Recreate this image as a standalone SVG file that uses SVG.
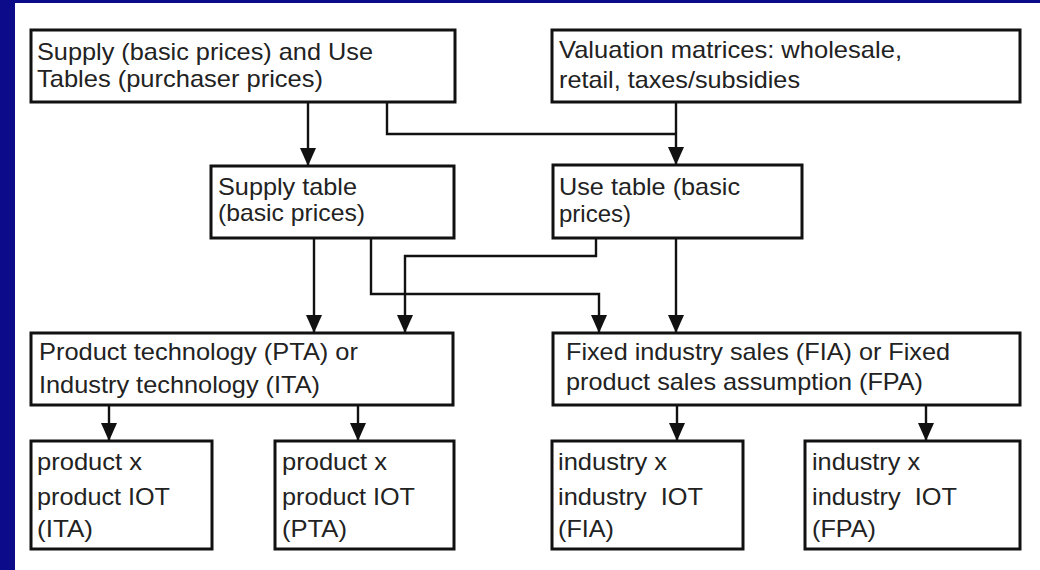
<svg xmlns="http://www.w3.org/2000/svg" width="1040" height="570" viewBox="0 0 1040 570">
  <style>
    .box { fill: #ffffff; stroke: #111111; stroke-width: 3; }
    .lbl { font-family: "Liberation Sans", Arial, Helvetica, sans-serif; font-size: 24px; fill: #222222; white-space: pre; }
    .conn { fill: none; stroke: #111111; stroke-width: 2.4; }
  </style>
  <defs>
    <marker id="arr" viewBox="0 0 18 16" refX="18" refY="8" markerWidth="18" markerHeight="16" markerUnits="userSpaceOnUse" orient="auto">
      <path d="M0,0 L18,8 L0,16 z" fill="#111111"/>
    </marker>
  </defs>
  <rect x="0" y="0" width="1040" height="570" fill="#ffffff"/>
  <rect x="0" y="0" width="1040" height="3" fill="#0c0c8a"/>
  <rect x="0" y="0" width="15" height="570" fill="#0c0c8a"/>

  <g id="connectors">
    <path class="conn" d="M308,102 V166" marker-end="url(#arr)"/>
    <path class="conn" d="M387,102 V134 H676"/>
    <path class="conn" d="M676,102 V165" marker-end="url(#arr)"/>
    <path class="conn" d="M314,238 V333" marker-end="url(#arr)"/>
    <path class="conn" d="M371,238 V294 H599 V333" marker-end="url(#arr)"/>
    <path class="conn" d="M596,238 V256 H405 V333" marker-end="url(#arr)"/>
    <path class="conn" d="M676,238 V333" marker-end="url(#arr)"/>
    <path class="conn" d="M109,405 V441" marker-end="url(#arr)"/>
    <path class="conn" d="M358,405 V441" marker-end="url(#arr)"/>
    <path class="conn" d="M677,405 V441" marker-end="url(#arr)"/>
    <path class="conn" d="M926,405 V441" marker-end="url(#arr)"/>
  </g>

  <g id="supply-use-purchaser">
    <rect class="box" x="31" y="30" width="424" height="72"/>
    <text class="lbl" x="37" y="60" textLength="336" lengthAdjust="spacingAndGlyphs">Supply (basic prices) and Use</text>
    <text class="lbl" x="37" y="87" textLength="286" lengthAdjust="spacingAndGlyphs">Tables (purchaser prices)</text>
  </g>

  <g id="valuation">
    <rect class="box" x="552" y="30" width="468" height="72"/>
    <text class="lbl" x="559" y="58" textLength="343" lengthAdjust="spacingAndGlyphs">Valuation matrices: wholesale,</text>
    <text class="lbl" x="559" y="88" textLength="241" lengthAdjust="spacingAndGlyphs">retail, taxes/subsidies</text>
  </g>

  <g id="supply-table">
    <rect class="box" x="211" y="166" width="243" height="72"/>
    <text class="lbl" x="218" y="195" textLength="139" lengthAdjust="spacingAndGlyphs">Supply table</text>
    <text class="lbl" x="218" y="221" textLength="147" lengthAdjust="spacingAndGlyphs">(basic prices)</text>
  </g>

  <g id="use-table">
    <rect class="box" x="553" y="165" width="249" height="73"/>
    <text class="lbl" x="559" y="195" textLength="181" lengthAdjust="spacingAndGlyphs">Use table (basic</text>
    <text class="lbl" x="559" y="222" textLength="72" lengthAdjust="spacingAndGlyphs">prices)</text>
  </g>

  <g id="product-industry-technology">
    <rect class="box" x="31" y="333" width="422" height="72"/>
    <text class="lbl" x="39" y="360" textLength="319" lengthAdjust="spacingAndGlyphs">Product technology (PTA) or</text>
    <text class="lbl" x="39" y="393" textLength="281" lengthAdjust="spacingAndGlyphs">Industry technology (ITA)</text>
  </g>

  <g id="fixed-sales">
    <rect class="box" x="553" y="333" width="467" height="72"/>
    <text class="lbl" x="566" y="360" textLength="384" lengthAdjust="spacingAndGlyphs">Fixed industry sales (FIA) or Fixed</text>
    <text class="lbl" x="566" y="390" textLength="357" lengthAdjust="spacingAndGlyphs">product sales assumption (FPA)</text>
  </g>

  <g id="iot-ita">
    <rect class="box" x="31" y="441" width="181" height="108"/>
    <text class="lbl" x="37" y="470" textLength="105" lengthAdjust="spacingAndGlyphs">product x</text>
    <text class="lbl" x="37" y="505" textLength="133" lengthAdjust="spacingAndGlyphs">product IOT</text>
    <text class="lbl" x="37" y="537" textLength="56" lengthAdjust="spacingAndGlyphs">(ITA)</text>
  </g>

  <g id="iot-pta">
    <rect class="box" x="275" y="441" width="179" height="108"/>
    <text class="lbl" x="282" y="470" textLength="105" lengthAdjust="spacingAndGlyphs">product x</text>
    <text class="lbl" x="282" y="505" textLength="133" lengthAdjust="spacingAndGlyphs">product IOT</text>
    <text class="lbl" x="282" y="537" textLength="65" lengthAdjust="spacingAndGlyphs">(PTA)</text>
  </g>

  <g id="iot-fia">
    <rect class="box" x="552" y="441" width="191" height="108"/>
    <text class="lbl" x="558" y="470" textLength="109" lengthAdjust="spacingAndGlyphs">industry x</text>
    <text class="lbl" x="558" y="505" textLength="145" lengthAdjust="spacingAndGlyphs">industry  IOT</text>
    <text class="lbl" x="558" y="537" textLength="56" lengthAdjust="spacingAndGlyphs">(FIA)</text>
  </g>

  <g id="iot-fpa">
    <rect class="box" x="805" y="441" width="215" height="108"/>
    <text class="lbl" x="812" y="470" textLength="108" lengthAdjust="spacingAndGlyphs">industry x</text>
    <text class="lbl" x="812" y="505" textLength="145" lengthAdjust="spacingAndGlyphs">industry  IOT</text>
    <text class="lbl" x="812" y="537" textLength="64" lengthAdjust="spacingAndGlyphs">(FPA)</text>
  </g>
</svg>
